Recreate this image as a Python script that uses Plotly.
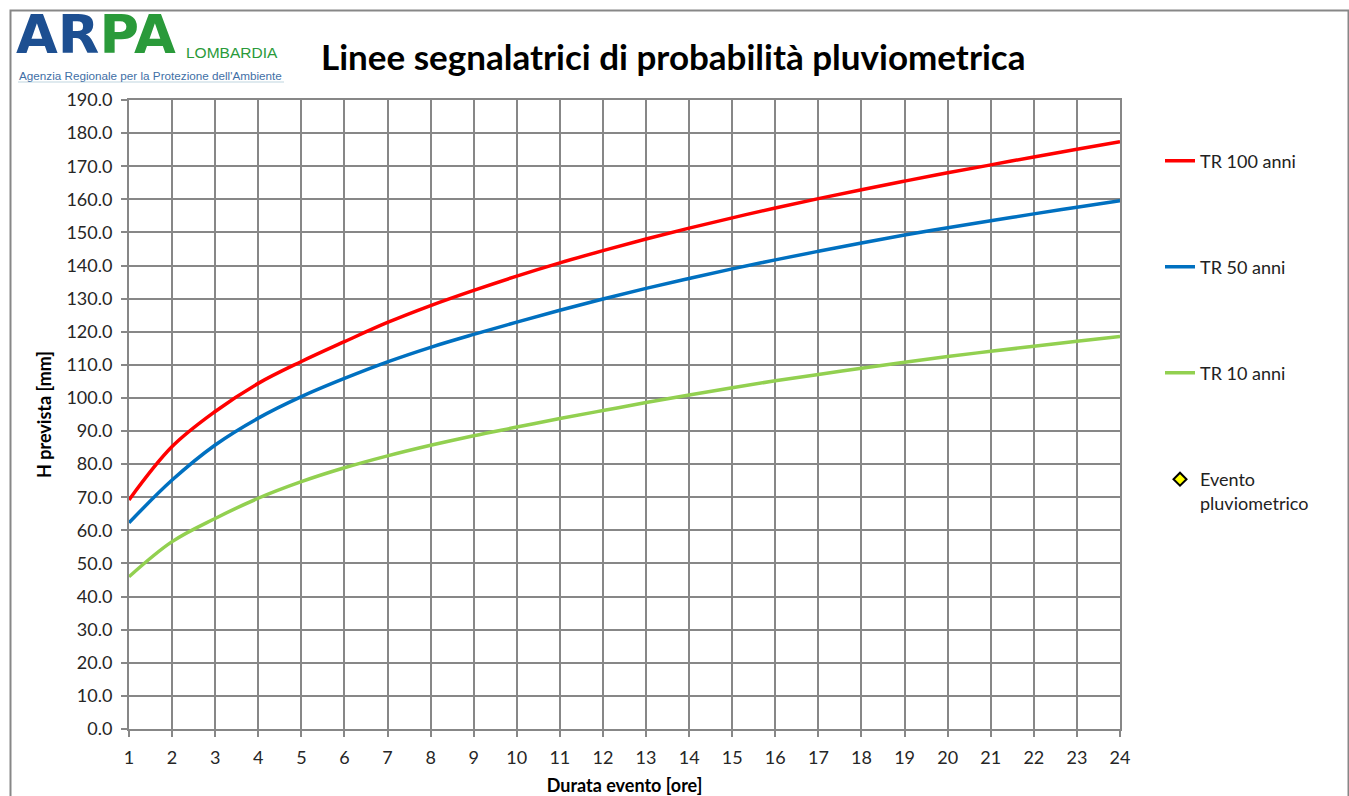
import plotly.graph_objects as go

# Durata evento [ore]
durata = list(range(1, 25))

# Altezza di pioggia prevista [mm] per tempo di ritorno
h_tr100 = [69.2, 85.3, 95.9, 104.4, 111.0, 117.0, 122.8, 127.9, 132.5, 136.8,
           140.8, 144.5, 148.0, 151.3, 154.4, 157.4, 160.2, 162.9, 165.5, 168.0,
           170.4, 172.8, 175.1, 177.4]
h_tr50 = [62.3, 75.2, 85.8, 93.9, 100.4, 105.9, 110.9, 115.3, 119.2, 122.9,
          126.5, 129.9, 133.1, 136.1, 139.0, 141.7, 144.3, 146.8, 149.2, 151.4,
          153.5, 155.6, 157.6, 159.6]
h_tr10 = [46.0, 56.6, 63.6, 69.7, 74.7, 78.9, 82.5, 85.7, 88.6, 91.2,
          93.8, 96.2, 98.6, 100.9, 103.1, 105.2, 107.1, 109.0, 110.8, 112.5,
          114.1, 115.6, 117.1, 118.6]

y_ticks = [v * 10 for v in range(0, 20)]

W, H = 1349, 796
L, R, T, B = 129, 1120, 100, 729   # plot area in pixels
FONT = "Lato"
GRID = "#878787"


def px(x):
    return (x - L) / (R - L)


def py(y):
    return (B - y) / (B - T)


fig = go.Figure()

series = [
    ("TR 100 anni", h_tr100, "#FF0000", "legend"),
    ("TR 50 anni", h_tr50, "#0070C0", "legend2"),
    ("TR 10 anni", h_tr10, "#92D050", "legend3"),
]
for name, vals, col, leg in series:
    fig.add_trace(go.Scatter(
        x=durata, y=vals, name=name, mode="lines",
        line=dict(color=col, width=3.5, shape="spline", smoothing=1.0),
        legend=leg, hoverinfo="x+y+name",
    ))

# Evento pluviometrico (nessun dato registrato)
fig.add_trace(go.Scatter(
    x=[None], y=[None], name="Evento<br>pluviometrico", mode="markers",
    marker=dict(symbol="diamond", size=10, color="#FFFF00",
                line=dict(color="#000000", width=2)),
    legend="legend4",
))

legend_common = dict(
    x=px(1160), xanchor="left", yanchor="middle",
    bgcolor="rgba(0,0,0,0)",
    font=dict(family=FONT, size=18, color="#222222"),
)

fig.update_layout(
    width=W, height=H,
    margin=dict(l=L, r=W - R, t=T, b=H - B, autoexpand=False),
    paper_bgcolor="white", plot_bgcolor="white",
    showlegend=True,
    legend=dict(y=py(161), **legend_common),
    legend2=dict(y=py(267), **legend_common),
    legend3=dict(y=py(373), **legend_common),
    legend4=dict(y=py(491), valign="top", **legend_common),
    xaxis=dict(
        range=[1, 24], tickmode="array", tickvals=durata,
        ticktext=[str(d) for d in durata],
        showgrid=True, gridcolor=GRID, gridwidth=2,
        showline=True, linecolor=GRID, linewidth=2, mirror=True,
        ticks="outside", ticklen=6, tickwidth=2, tickcolor=GRID,
        zeroline=False, ticklabelstandoff=5, automargin=False,
        tickfont=dict(family=FONT, size=18, color="#262626"),
        title=dict(text="<b>Durata evento [ore]</b>", standoff=15,
                   font=dict(family=FONT, size=18, color="#000000")),
    ),
    yaxis=dict(
        range=[0, 190], tickmode="array", tickvals=y_ticks,
        ticktext=[f"{v:.1f}" for v in y_ticks],
        showgrid=True, gridcolor=GRID, gridwidth=2,
        showline=True, linecolor=GRID, linewidth=2, mirror=True,
        ticks="outside", ticklen=6, tickwidth=2, tickcolor=GRID,
        zeroline=False, ticklabelstandoff=5, automargin=False,
        tickfont=dict(family=FONT, size=18, color="#262626"),
        title=dict(text="<b>H prevista [mm]</b>", standoff=10,
                   font=dict(family=FONT, size=18, color="#000000")),
    ),
)

# Titolo
fig.add_annotation(
    xref="paper", yref="paper", x=px(673), y=py(56),
    xanchor="center", yanchor="middle", showarrow=False,
    text="<b>Linee segnalatrici di probabilità pluviometrica</b>",
    font=dict(family=FONT, size=35, color="#000000"),
)

# Logo ARPA Lombardia
fig.add_annotation(
    xref="paper", yref="paper", x=px(14), y=py(68),
    xanchor="left", yanchor="bottom", showarrow=False,
    text=("<b><span style='color:#1D4F91'>AR</span>"
          "<span style='color:#2A9A3A'>PA</span></b>"),
    font=dict(family="DejaVu Sans", size=54),
)
fig.add_annotation(
    xref="paper", yref="paper", x=px(184), y=py(53),
    xanchor="left", yanchor="middle", showarrow=False,
    text="LOMBARDIA",
    font=dict(family="Liberation Sans", size=15.5, color="#2A9A3A"),
)
fig.add_annotation(
    xref="paper", yref="paper", x=px(17), y=py(75),
    xanchor="left", yanchor="middle", showarrow=False,
    text="Agenzia Regionale per la Protezione dell'Ambiente",
    font=dict(family="Liberation Sans", size=11.7, color="#3F6FA6"),
)
fig.add_shape(
    type="line", xref="paper", yref="paper",
    x0=px(18), x1=px(284), y0=py(82), y1=py(82),
    line=dict(color="#D5E3EA", width=1.5),
)

# Cornice del grafico
fig.add_shape(
    type="rect", xref="paper", yref="paper",
    x0=px(10.5), x1=px(1348.5), y0=py(805), y1=py(10.5),
    line=dict(color="#878787", width=2), layer="below",
)

fig.write_html("out.html")
